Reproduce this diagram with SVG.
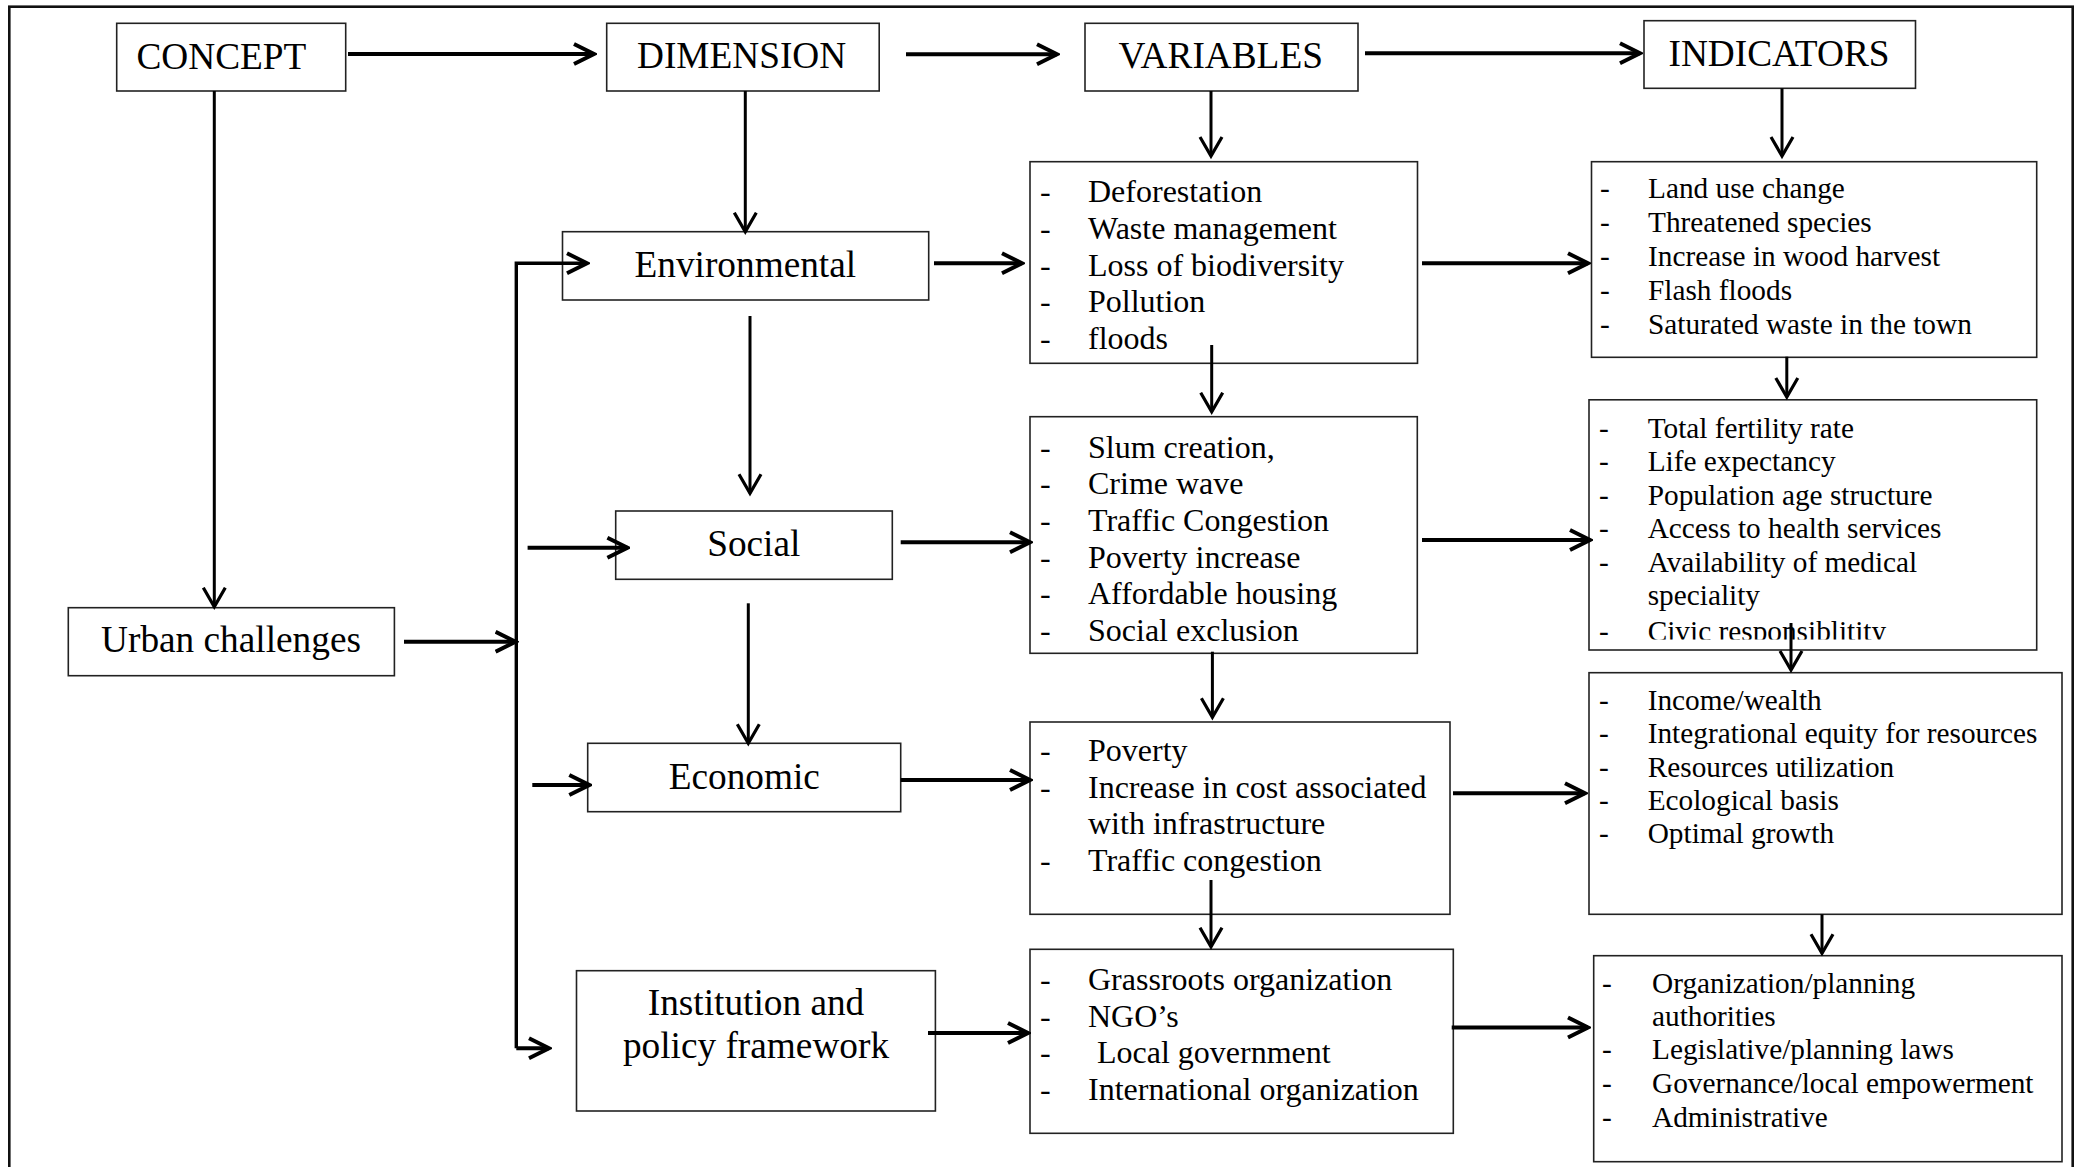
<svg xmlns="http://www.w3.org/2000/svg" width="2085" height="1167" viewBox="0 0 2085 1167">
  <style>
    .box { fill: #fff; stroke: #222; stroke-width: 1.6; }
    .frame { fill: none; stroke: #111; stroke-width: 2.6; }
    .lbl { font-family: "Liberation Serif", "Times New Roman", serif; font-size: 37.3px; fill: #000; text-anchor: middle; }
    .li { font-family: "Liberation Serif", "Times New Roman", serif; font-size: 32px; fill: #000; }
    .ls { font-family: "Liberation Serif", "Times New Roman", serif; font-size: 29.3px; fill: #000; }
    .h { fill: none; stroke: #000; stroke-width: 4; marker-end: url(#arrH); }
    .v { fill: none; stroke: #000; stroke-width: 3; marker-end: url(#arrV); }
  </style>
  <defs>
    <marker id="arrH" markerUnits="userSpaceOnUse" viewBox="0 0 24 26" markerWidth="24" markerHeight="26" refX="21" refY="13" orient="auto">
      <path d="M1,3 L21,13 L1,23" fill="none" stroke="#000" stroke-width="4"/>
    </marker>
    <marker id="arrV" markerUnits="userSpaceOnUse" viewBox="0 0 24 26" markerWidth="24" markerHeight="26" refX="20" refY="13" orient="auto">
      <path d="M1,2 L20,13 L1,24" fill="none" stroke="#000" stroke-width="3.2"/>
    </marker>
    <clipPath id="civicClip">
      <rect x="1589" y="399" width="448" height="240.5"/>
    </clipPath>
  </defs>

  <rect width="2085" height="1167" fill="#fff"/>
  <rect class="frame" x="9.3" y="6.7" width="2063.4" height="1175"/>

  <!-- header row -->
  <g id="concept">
    <rect class="box" x="116.7" y="23.3" width="229" height="67.7"/>
    <text class="lbl" x="221.4" y="69.3">CONCEPT</text>
  </g>
  <g id="dimension">
    <rect class="box" x="606.7" y="23.3" width="272.5" height="67.7"/>
    <text class="lbl" x="741.6" y="68.3">DIMENSION</text>
  </g>
  <g id="variables">
    <rect class="box" x="1085" y="23.3" width="273" height="67.7"/>
    <text class="lbl" x="1220.7" y="68.3">VARIABLES</text>
  </g>
  <g id="indicators">
    <rect class="box" x="1644" y="20.7" width="271.5" height="67.6"/>
    <text class="lbl" x="1779" y="65.7">INDICATORS</text>
  </g>

  <!-- concept -->
  <g id="urban-challenges">
    <rect class="box" x="68.3" y="607.7" width="326.1" height="68"/>
    <text class="lbl" x="231" y="651.7">Urban challenges</text>
  </g>

  <!-- dimensions -->
  <g id="environmental">
    <rect class="box" x="562.5" y="231.7" width="366.2" height="68.3"/>
    <text class="lbl" x="745.3" y="276.7">Environmental</text>
  </g>
  <g id="social">
    <rect class="box" x="615.7" y="511" width="276.6" height="68.3"/>
    <text class="lbl" x="753.8" y="556">Social</text>
  </g>
  <g id="economic">
    <rect class="box" x="587.7" y="743.3" width="313" height="68.4"/>
    <text class="lbl" x="744.3" y="789.3">Economic</text>
  </g>
  <g id="institution">
    <rect class="box" x="576.5" y="970.7" width="358.9" height="140.3"/>
    <text class="lbl" x="756" y="1015">Institution and</text>
    <text class="lbl" x="756" y="1058.3">policy framework</text>
  </g>

  <!-- variables -->
  <g id="var-environmental">
    <rect class="box" x="1030" y="161.7" width="387.5" height="201.6"/>
    <g class="li">
      <text x="1040" y="202.3">-</text><text x="1088" y="202.3">Deforestation</text>
      <text x="1040" y="239">-</text><text x="1088" y="239">Waste management</text>
      <text x="1040" y="275.7">-</text><text x="1088" y="275.7">Loss of biodiversity</text>
      <text x="1040" y="312.4">-</text><text x="1088" y="312.4">Pollution</text>
      <text x="1040" y="349.1">-</text><text x="1088" y="349.1">floods</text>
    </g>
  </g>
  <g id="var-social">
    <rect class="box" x="1030" y="416.7" width="387.3" height="236.6"/>
    <g class="li">
      <text x="1040" y="457.5">-</text><text x="1088" y="457.5">Slum creation,</text>
      <text x="1040" y="494.2">-</text><text x="1088" y="494.2">Crime wave</text>
      <text x="1040" y="530.9">-</text><text x="1088" y="530.9">Traffic Congestion</text>
      <text x="1040" y="567.6">-</text><text x="1088" y="567.6">Poverty increase</text>
      <text x="1040" y="604.3">-</text><text x="1088" y="604.3">Affordable housing</text>
      <text x="1040" y="641">-</text><text x="1088" y="641">Social exclusion</text>
    </g>
  </g>
  <g id="var-economic">
    <rect class="box" x="1030" y="722" width="420" height="192.3"/>
    <g class="li">
      <text x="1040" y="761">-</text><text x="1088" y="761">Poverty</text>
      <text x="1040" y="797.5">-</text><text x="1088" y="797.5">Increase in cost associated</text>
      <text x="1088" y="834">with infrastructure</text>
      <text x="1040" y="870.5">-</text><text x="1088" y="870.5">Traffic congestion</text>
    </g>
  </g>
  <g id="var-institution">
    <rect class="box" x="1030" y="949.3" width="423.3" height="184"/>
    <g class="li">
      <text x="1040" y="990">-</text><text x="1088" y="990">Grassroots organization</text>
      <text x="1040" y="1026.7">-</text><text x="1088" y="1026.7">NGO’s</text>
      <text x="1040" y="1063.4">-</text><text x="1097" y="1063.4">Local government</text>
      <text x="1040" y="1100.1">-</text><text x="1088" y="1100.1">International organization</text>
    </g>
  </g>

  <!-- indicators -->
  <g id="ind-environmental">
    <rect class="box" x="1591.5" y="161.7" width="445.2" height="195.6"/>
    <g class="ls">
      <text x="1600" y="197.5">-</text><text x="1648" y="197.5">Land use change</text>
      <text x="1600" y="231.7">-</text><text x="1648" y="231.7">Threatened species</text>
      <text x="1600" y="265.9">-</text><text x="1648" y="265.9">Increase in wood harvest</text>
      <text x="1600" y="300.1">-</text><text x="1648" y="300.1">Flash floods</text>
      <text x="1600" y="334.3">-</text><text x="1648" y="334.3">Saturated waste in the town</text>
    </g>
  </g>
  <g id="ind-social">
    <rect class="box" x="1589" y="399.8" width="447.7" height="250.2"/>
    <g class="ls">
      <text x="1599" y="437.7">-</text><text x="1647.7" y="437.7">Total fertility rate</text>
      <text x="1599" y="471.1">-</text><text x="1647.7" y="471.1">Life expectancy</text>
      <text x="1599" y="504.5">-</text><text x="1647.7" y="504.5">Population age structure</text>
      <text x="1599" y="538">-</text><text x="1647.7" y="538">Access to health services</text>
      <text x="1599" y="571.5">-</text><text x="1647.7" y="571.5">Availability of medical</text>
      <text x="1647.7" y="605">speciality</text>
      <g clip-path="url(#civicClip)">
        <text x="1599" y="640.5">-</text><text x="1647.7" y="640.5">Civic responsiblitity</text>
      </g>
    </g>
  </g>
  <g id="ind-economic">
    <rect class="box" x="1589" y="672.7" width="473" height="241.6"/>
    <g class="ls">
      <text x="1599" y="710">-</text><text x="1647.7" y="710">Income/wealth</text>
      <text x="1599" y="743.3">-</text><text x="1647.7" y="743.3">Integrational equity for resources</text>
      <text x="1599" y="776.6">-</text><text x="1647.7" y="776.6">Resources utilization</text>
      <text x="1599" y="809.9">-</text><text x="1647.7" y="809.9">Ecological basis</text>
      <text x="1599" y="843.2">-</text><text x="1647.7" y="843.2">Optimal growth</text>
    </g>
  </g>
  <g id="ind-institution">
    <rect class="box" x="1593.7" y="955.7" width="468.3" height="206"/>
    <g class="ls">
      <text x="1602" y="993.3">-</text><text x="1652" y="993.3">Organization/planning</text>
      <text x="1652" y="1025.5">authorities</text>
      <text x="1602" y="1059.3">-</text><text x="1652" y="1059.3">Legislative/planning laws</text>
      <text x="1602" y="1093.3">-</text><text x="1652" y="1093.3">Governance/local empowerment</text>
      <text x="1602" y="1127.3">-</text><text x="1652" y="1127.3">Administrative</text>
    </g>
  </g>

  <!-- connectors -->
  <g id="connectors">
    <!-- header flow -->
    <line class="h" x1="348" y1="54" x2="594" y2="54"/>
    <line class="h" x1="906" y1="54.3" x2="1057" y2="54.3"/>
    <line class="h" x1="1365" y1="53.3" x2="1640" y2="53.3"/>

    <!-- header down links -->
    <line class="v" x1="214.3" y1="91" x2="214.3" y2="606.7"/>
    <line class="v" x1="745.3" y1="91" x2="745.3" y2="231.7"/>
    <line class="v" x1="1211" y1="91" x2="1211" y2="156"/>
    <line class="v" x1="1782" y1="88.3" x2="1782" y2="156"/>

    <!-- urban challenges to dimension bus -->
    <line class="h" x1="404" y1="641.7" x2="515.6" y2="641.7"/>
    <path d="M516.3,1048.3 V263.3 H587" fill="none" stroke="#000" stroke-width="3.4" marker-end="url(#arrH)"/>
    <line class="h" x1="516.3" y1="1048.3" x2="549" y2="1048.3"/>
    <line class="h" x1="527.6" y1="547.7" x2="627.4" y2="547.7"/>
    <line class="h" x1="532.3" y1="785" x2="589.3" y2="785"/>

    <!-- dimension chain -->
    <line class="v" x1="750" y1="316" x2="750" y2="493.3"/>
    <line class="v" x1="748.3" y1="603.3" x2="748.3" y2="743.3"/>

    <!-- dimension to variables -->
    <line class="h" x1="934" y1="263.3" x2="1022" y2="263.3"/>
    <line class="h" x1="900.7" y1="542.3" x2="1030" y2="542.3"/>
    <line class="h" x1="900.7" y1="780" x2="1030" y2="780"/>
    <line class="h" x1="928" y1="1033" x2="1028" y2="1033"/>

    <!-- variables chain -->
    <line class="v" x1="1211.7" y1="345" x2="1211.7" y2="411.7"/>
    <line class="v" x1="1212.4" y1="651.7" x2="1212.4" y2="717.3"/>
    <line class="v" x1="1211" y1="880" x2="1211" y2="946.7"/>

    <!-- variables to indicators -->
    <line class="h" x1="1422" y1="263.3" x2="1588" y2="263.3"/>
    <line class="h" x1="1422" y1="540" x2="1590" y2="540"/>
    <line class="h" x1="1453" y1="793.3" x2="1585" y2="793.3"/>
    <line class="h" x1="1451.7" y1="1027.5" x2="1588" y2="1027.5"/>

    <!-- indicators chain -->
    <line class="v" x1="1786.8" y1="356.7" x2="1786.8" y2="397"/>
    <line class="v" x1="1791" y1="623" x2="1791" y2="670"/>
    <line class="v" x1="1822" y1="914.3" x2="1822" y2="953.3"/>
  </g>
</svg>
